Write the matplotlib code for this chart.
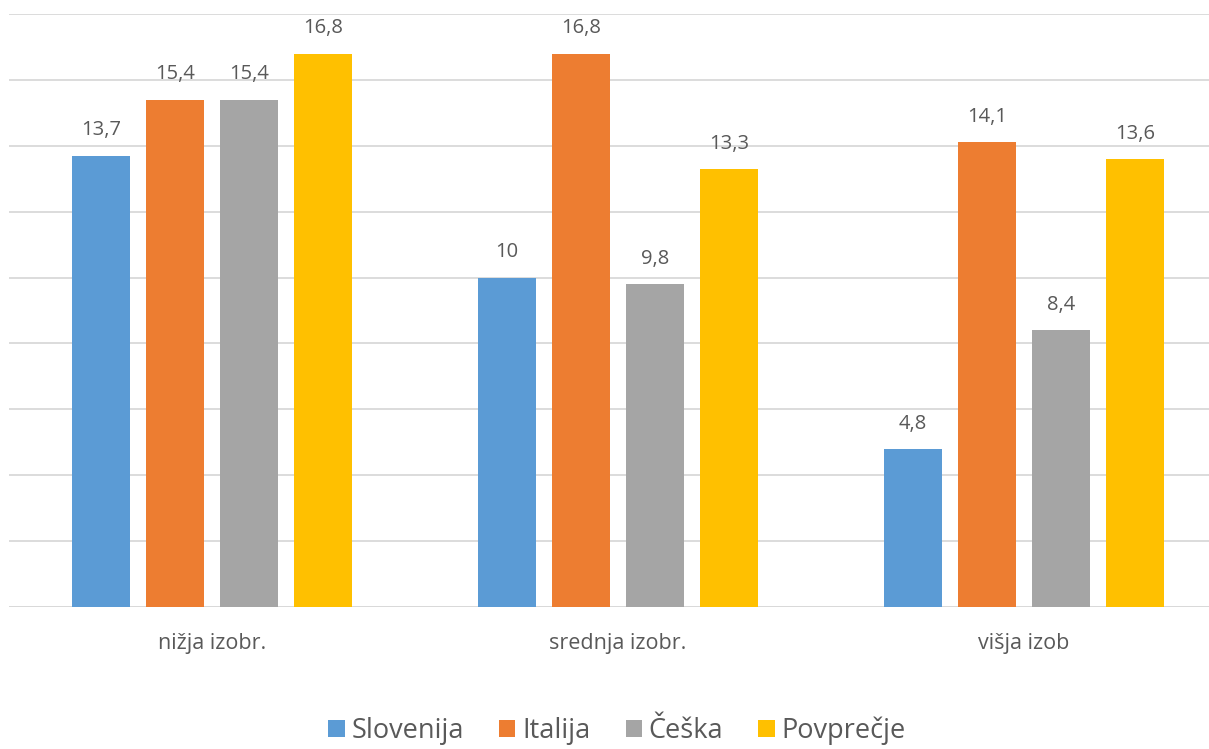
import matplotlib
matplotlib.use("Agg")
import matplotlib.pyplot as plt
import numpy as np

categories = ["nižja izobr.", "srednja izobr.", "višja izob"]
series_names = ["Slovenija", "Italija", "Češka", "Povprečje"]
slovenija = [13.7, 10, 4.8]
italija = [15.4, 16.8, 14.1]
ceska = [15.4, 9.8, 8.4]
povprecje = [16.8, 13.3, 13.6]
colors = ["#5B9BD5", "#ED7D31", "#A5A5A5", "#FFC000"]

plt.rcParams['font.family'] = ['Open Sans', 'DejaVu Sans']
text_color = "#595959"

W, H = 1209, 749
fig = plt.figure(figsize=(W / 100, H / 100), dpi=100)
left_px, right_px = 9, 1227
bottom_px, top_px = 607, 14
ax = fig.add_axes([left_px / W, (H - bottom_px) / H, (right_px - left_px) / W, (bottom_px - top_px) / H])

x = np.arange(len(categories))
width = 0.142
step = 0.182
all_series = [slovenija, italija, ceska, povprecje]
handles = []
for i, (name, vals, c) in enumerate(zip(series_names, all_series, colors)):
    pos = x + (i - 1.5) * step
    b = ax.bar(pos, vals, width, color=c, label=name, zorder=3)
    handles.append(b)
    for px_, v in zip(pos, vals):
        lbl = f"{v:g}".replace(".", ",")
        ax.annotate(lbl, (px_, v), xytext=(0, 11), textcoords="offset points",
                    ha="center", va="bottom", fontsize=14.5, color=text_color)

ax.set_xlim(-0.5, 2.5)
ax.set_ylim(0, 18)
ax.set_yticks(np.arange(0, 19, 2))
ax.yaxis.grid(True, color="#D9D9D9", linewidth=1.3, zorder=0)
ax.tick_params(axis="y", left=False, labelleft=False)
ax.tick_params(axis="x", bottom=False, labelsize=15.5, labelcolor=text_color, pad=15)
ax.set_xticks(x)
ax.set_xticklabels(categories)
for s in ax.spines.values():
    s.set_visible(False)
ax.axhline(0, color="#D9D9D9", linewidth=1.3, zorder=2)

fig.legend(handles=handles, labels=series_names, loc="center", bbox_to_anchor=(617 / W, (H - 731) / H),
           ncol=4, frameon=False, fontsize=19.5, labelcolor=text_color, handlelength=0.6,
           handleheight=0.6, handletextpad=0.25, columnspacing=1.3)

fig.savefig("out.png", dpi=100)
